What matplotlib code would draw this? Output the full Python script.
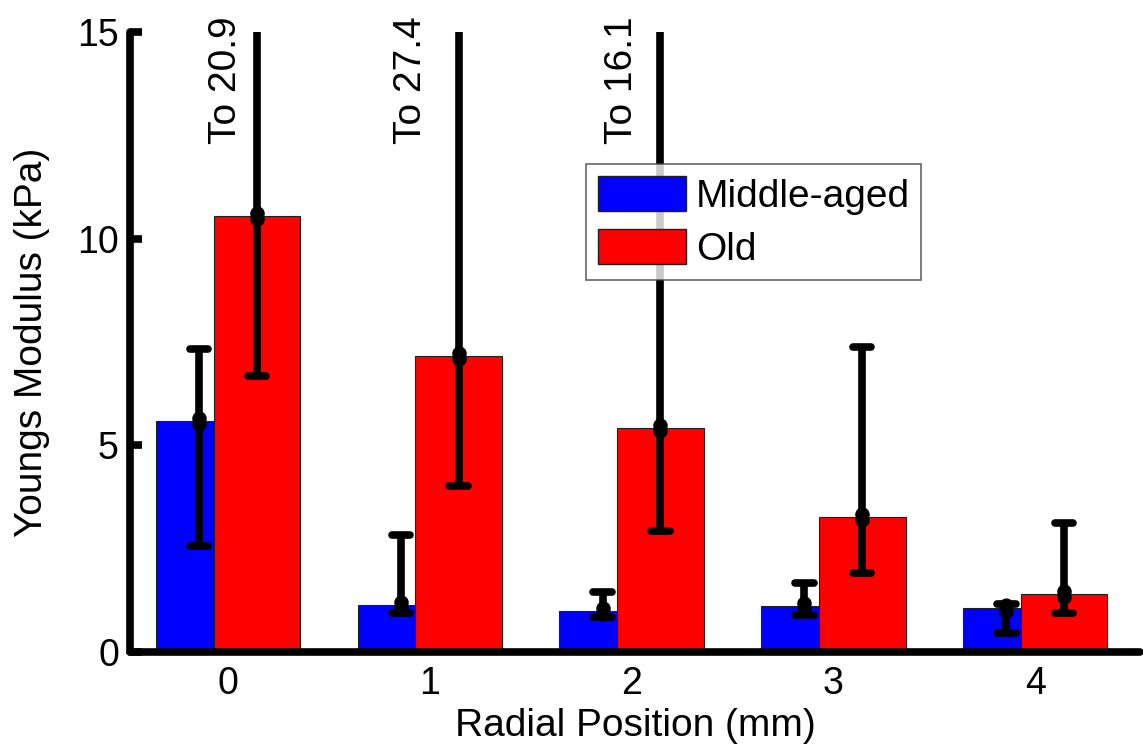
import matplotlib
matplotlib.use("Agg")
import matplotlib.pyplot as plt
import numpy as np
from matplotlib.path import Path
from matplotlib.patches import Patch

plt.rcParams['font.family'] = ['Liberation Sans', 'DejaVu Sans']

# ---- data ----
positions = [0, 1, 2, 3, 4]
tick_labels = ['0', '1', '2', '3', '4']
series_names = ['Middle-aged', 'Old']

mid_mean = [5.60, 1.13, 0.99, 1.11, 1.06]
mid_hi = [7.32, 2.83, 1.45, 1.68, 1.15]
mid_lo = [2.57, 0.95, 0.85, 0.89, 0.47]

old_mean = [10.55, 7.16, 5.42, 3.27, 1.41]
old_hi = [20.9, 27.4, 16.1, 7.37, 3.12]
old_lo = [6.68, 4.02, 2.92, 1.92, 0.94]

y_max = 15

# ---- style ----
BLUE = '#0000ff'
RED = '#ff0000'
W = 0.43
OFF = 0.143
FS = 28
LW = 5.5
over_label_x = [-0.01, 0.905, 1.955]

fig = plt.figure(figsize=(11.43, 7.55), dpi=100)
ax = fig.add_axes([130 / 1143, 1 - 652 / 755, 1010 / 1143, 620 / 755])

x = np.array(positions, dtype=float)
xb = x - OFF
xr = x + OFF

ax.bar(xb, mid_mean, width=W, color=BLUE, edgecolor='#202020', linewidth=0.8, zorder=2)
ax.bar(xr, old_mean, width=W, color=RED, edgecolor='#202020', linewidth=0.8, zorder=2.1)

# two-lobed dot marker
blob = Path.make_compound_path(Path.circle((0, 0.3), 0.7), Path.circle((0, -0.3), 0.7))

cap_half = 0.046
for xs, mean, lo, hi in [(xb, mid_mean, mid_lo, mid_hi), (xr, old_mean, old_lo, old_hi)]:
    ax.vlines(xs, lo, hi, colors='k', linewidth=LW, zorder=3)
    ax.hlines(lo, xs - cap_half, xs + cap_half, colors='k', linewidth=LW, capstyle='round', zorder=3)
    ax.hlines(hi, xs - cap_half, xs + cap_half, colors='k', linewidth=LW, capstyle='round', zorder=3)
    ax.plot(xs, mean, linestyle='none', marker=blob, markersize=13.5, color='k', zorder=3.5)

# labels for bars running off the top
k = 0
for i, v in enumerate(old_hi):
    if v > y_max:
        ax.text(over_label_x[k], 12.3, f'To {v}', rotation=90, ha='center', va='bottom',
                fontsize=FS, clip_on=False, zorder=4)
        k += 1

ax.set_xlim(-0.486, 4.52)
ax.set_ylim(0, y_max)
ax.set_yticks([0, 5, 10, 15])
ax.set_xticks(positions)
ax.set_xticklabels(tick_labels)

for s in ['top', 'right']:
    ax.spines[s].set_visible(False)
for s in ['left', 'bottom']:
    ax.spines[s].set_linewidth(5.5)
    ax.spines[s].set_capstyle('round')

ax.tick_params(axis='y', direction='in', length=8.5, width=5.5, labelsize=FS - 1, pad=8)
ax.tick_params(axis='x', length=0, labelsize=FS - 1, pad=10)

ax.set_ylabel('Youngs Modulus (kPa)', fontsize=FS)
ax.yaxis.set_label_coords(-0.079, 0.5)
ax.set_xlabel('Radial Position (mm)', fontsize=FS)
ax.xaxis.set_label_coords(0.5, -0.09)
ax.xaxis.label.set_va('top')

handles = [Patch(facecolor=BLUE, edgecolor='#202020', linewidth=1),
           Patch(facecolor=RED, edgecolor='#202020', linewidth=1)]
leg = ax.legend(handles, series_names, loc='upper left', bbox_to_anchor=(0.4515, 0.787),
                fontsize=FS, frameon=True, fancybox=False, shadow=False,
                handlelength=2.26, handleheight=1.03, handletextpad=0.26,
                labelspacing=0.36, borderpad=0.3, borderaxespad=0.0)
leg.get_frame().set_edgecolor('#404040')
leg.get_frame().set_linewidth(1.2)
leg.set_zorder(5)

fig.savefig('out.png', dpi=100)
